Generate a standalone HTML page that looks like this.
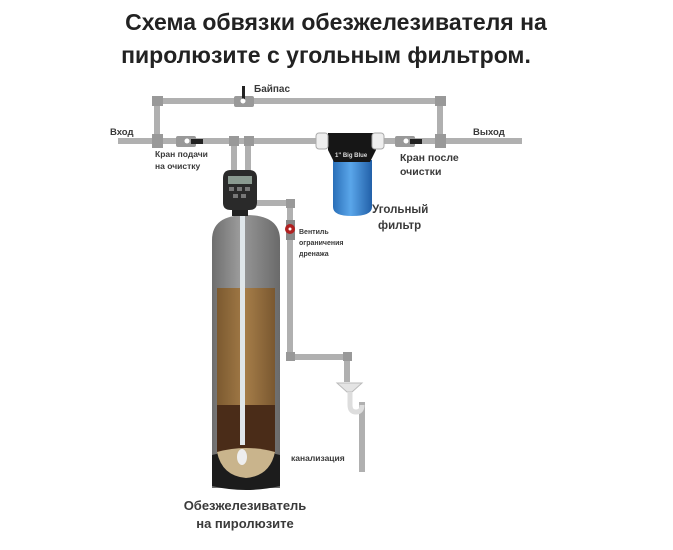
<!DOCTYPE html>
<html><head><meta charset="utf-8"><style>
html,body{margin:0;padding:0;background:#fff;}
svg{display:block;font-family:"Liberation Sans","DejaVu Sans",sans-serif;}
</style></head><body>
<svg width="673" height="550" viewBox="0 0 673 550" xmlns="http://www.w3.org/2000/svg">
<defs>
<linearGradient id="tank" x1="0" x2="1"><stop offset="0" stop-color="#6e6e6e"/><stop offset="0.4" stop-color="#9a9a9a"/><stop offset="1" stop-color="#6a6a6a"/></linearGradient>
<linearGradient id="blue" x1="0" x2="1"><stop offset="0" stop-color="#2a6fb8"/><stop offset="0.45" stop-color="#5aa6ea"/><stop offset="1" stop-color="#2260a8"/></linearGradient>
<linearGradient id="media" x1="0" x2="1"><stop offset="0" stop-color="#7c5a30"/><stop offset="0.5" stop-color="#a47c48"/><stop offset="1" stop-color="#7a5830"/></linearGradient>
</defs>
<text x="336" y="30" text-anchor="middle" font-size="23" font-weight="bold" fill="#222">Схема обвязки обезжелезивателя на</text>
<text x="326" y="63" text-anchor="middle" font-size="23" font-weight="bold" fill="#222">пиролюзите с угольным фильтром.</text>

<g stroke="#b0b0b0" stroke-width="6" fill="none">
<path d="M157 141 V101 H440 V141"/>
<path d="M118 141 H320"/>
<path d="M380 141 H522"/>
<path d="M234 141 V172 M248 141 V172"/>
<path d="M257 203 H290 V357 H347 V382"/>
<path d="M362 472 V402"/>
</g>
<g fill="#999">
<rect x="152" y="134" width="11" height="14"/><rect x="435" y="134" width="11" height="14"/>
<rect x="152" y="96" width="11" height="10"/><rect x="435" y="96" width="11" height="10"/>
<rect x="229" y="136" width="10" height="10"/><rect x="244" y="136" width="10" height="10"/>
<rect x="234" y="96" width="20" height="11" rx="2"/>
<rect x="176" y="136" width="20" height="11" rx="2"/>
<rect x="395" y="136" width="20" height="11" rx="2"/>
<rect x="286" y="199" width="9" height="9"/><rect x="286" y="352" width="9" height="9"/><rect x="343" y="352" width="9" height="9"/>
</g>
<g fill="#222"><rect x="242" y="86" width="3" height="14"/><rect x="191" y="139" width="12" height="5"/><rect x="410" y="139" width="12" height="5"/></g>
<circle cx="243" cy="101" r="2.5" fill="#fff"/><circle cx="187" cy="141" r="2.5" fill="#fff"/><circle cx="406" cy="141" r="2.5" fill="#fff"/>

<!-- tank -->
<path d="M212 240 Q212 215 246 215 Q280 215 280 240 V488 H212 Z" fill="url(#tank)"/>
<rect x="217" y="288" width="58" height="118" fill="url(#media)"/>
<rect x="217" y="405" width="58" height="50" fill="#4a2c18"/>
<path d="M212 455 Q246 446 280 455 V486 Q246 494 212 486 Z" fill="#1c1c1c"/>
<path d="M217 452 Q246 444 275 452 Q270 476 246 478 Q222 476 217 452 Z" fill="#c9b48c"/>
<rect x="240" y="185" width="5" height="260" fill="#dfe6ea"/>
<ellipse cx="242" cy="457" rx="5" ry="8" fill="#eee"/>
<!-- control head -->
<path d="M223 178 Q223 170 231 170 H249 Q257 170 257 178 V203 Q257 210 249 210 H231 Q223 210 223 203 Z" fill="#2a2a2a"/>
<rect x="228" y="176" width="24" height="8" fill="#8a9a90"/>
<g fill="#777"><rect x="229" y="187" width="5" height="4"/><rect x="237" y="187" width="5" height="4"/><rect x="245" y="187" width="5" height="4"/><rect x="233" y="194" width="5" height="4"/><rect x="241" y="194" width="5" height="4"/></g>
<rect x="232" y="210" width="16" height="6" fill="#222"/>
<!-- red valve -->
<rect x="286" y="220" width="9" height="20" fill="#888"/>
<circle cx="290" cy="229" r="5" fill="#b02020"/><circle cx="290" cy="229" r="1.5" fill="#fff"/>
<!-- drain trap -->
<path d="M337 383 H362 L352 392 H347 Z" fill="#e4e4e4" stroke="#bbb"/>
<path d="M350 392 V405 Q350 412 356 412 Q362 412 362 405" stroke="#ddd" stroke-width="5" fill="none"/>
<!-- filter -->
<path d="M333 160 H372 V207 Q372 216 352 216 Q333 216 333 207 Z" fill="url(#blue)"/>
<path d="M328 133 H376 V150 L370 162 H334 L328 150 Z" fill="#161616"/>
<rect x="316" y="133" width="12" height="16" rx="3" fill="#eee" stroke="#aaa"/>
<rect x="372" y="133" width="12" height="16" rx="3" fill="#eee" stroke="#aaa"/>
<text x="335" y="157" font-size="6" fill="#ddd" font-weight="bold">1" Big Blue</text>

<g fill="#3a3a3a" font-weight="bold">
<text x="254" y="92" font-size="10">Байпас</text>
<text x="110" y="135" font-size="9.5">Вход</text>
<text x="473" y="135" font-size="9.5">Выход</text>
<text x="155" y="157" font-size="8.5">Кран подачи</text>
<text x="155" y="169" font-size="8.5">на очистку</text>
<text x="400" y="161" font-size="10.5">Кран после</text>
<text x="400" y="175" font-size="10.5">очистки</text>
<text x="372" y="213" font-size="11.5">Угольный</text>
<text x="378" y="229" font-size="11.5">фильтр</text>
<text x="299" y="234" font-size="7">Вентиль</text>
<text x="299" y="245" font-size="7">ограничения</text>
<text x="299" y="256" font-size="7">дренажа</text>
<text x="291" y="461" font-size="8.5">канализация</text>
<text x="245" y="510" text-anchor="middle" font-size="13">Обезжелезиватель</text>
<text x="245" y="528" text-anchor="middle" font-size="13">на пиролюзите</text>
</g>
</svg>
</body></html>
